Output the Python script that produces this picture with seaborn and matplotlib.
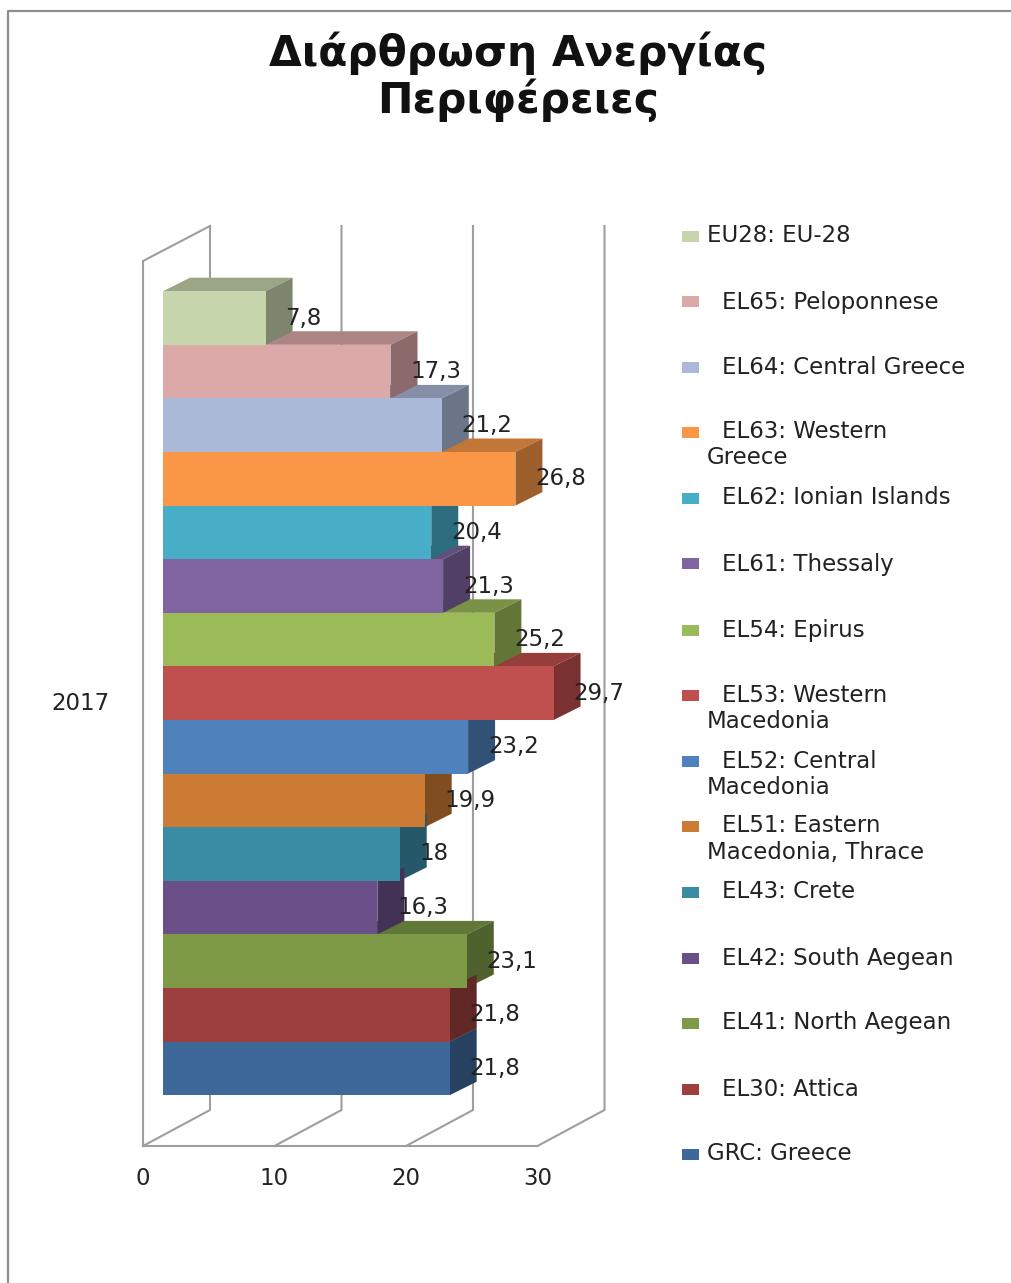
import matplotlib
matplotlib.use("Agg")
import matplotlib.pyplot as plt
from matplotlib.colors import to_rgb
from matplotlib.patches import Rectangle
import pandas as pd
import seaborn as sns

W, H = 1011, 1283
title_lines = ["Διάρθρωση Ανεργίας", "Περιφέρειες"]
year = "2017"
regions = ["EU28", "EL65", "EL64", "EL63", "EL62", "EL61", "EL54", "EL53",
           "EL52", "EL51", "EL43", "EL42", "EL41", "EL30", "GRC"]
values = [7.8, 17.3, 21.2, 26.8, 20.4, 21.3, 25.2, 29.7, 23.2, 19.9, 18, 16.3, 23.1, 21.8, 21.8]
value_labels = ["7,8", "17,3", "21,2", "26,8", "20,4", "21,3", "25,2", "29,7",
                "23,2", "19,9", "18", "16,3", "23,1", "21,8", "21,8"]
legend_labels = ["EU28: EU-28", "  EL65: Peloponnese", "  EL64: Central Greece",
                 "  EL63: Western\nGreece", "  EL62: Ionian Islands", "  EL61: Thessaly",
                 "  EL54: Epirus", "  EL53: Western\nMacedonia", "  EL52: Central\nMacedonia",
                 "  EL51: Eastern\nMacedonia, Thrace", "  EL43: Crete", "  EL42: South Aegean",
                 "  EL41: North Aegean", "  EL30: Attica", "GRC: Greece"]
colors = ["#C6D5AC", "#DBA9A8", "#AAB9D7", "#F99746", "#48ADC7", "#8064A2", "#9BBB59", "#C0504D",
          "#4F81BD", "#CB7B34", "#3A8CA5", "#6B4F88", "#7E9A47", "#9C3F3D", "#3E6899"]
axis_ticks = [0, 10, 20, 30]
legend_y = [236, 302, 367, 432, 498, 564, 630, 695, 761, 826, 892, 958, 1023, 1089, 1154]

# layout: pixels per data unit / per category, and origin of the plot
PX, PY = 13.15, 53.6
X0, Y0 = 163, 318
DEPTH_X, DEPTH_Y = 27 / PX, 13.5 / PY
INK = "#222222"
GRID = "#9E9E9E"
LABEL_SIZE = 16.5

sns.set_theme(style="white")
plt.rcParams["font.family"] = ["DejaVu Sans"]

fig = plt.figure(figsize=(W / 100, H / 100), dpi=100)
ax = fig.add_axes([0, 0, 1, 1])

df = pd.DataFrame({"region": regions, "value": values})
sns.barplot(data=df, y="region", x="value", hue="region", palette=colors, hue_order=regions,
            order=regions, orient="h", width=1.0, saturation=1, legend=False, ax=ax)
ax.set_xlim(-X0 / PX, (W - X0) / PX)
ax.set_ylim((H - Y0) / PY, -Y0 / PY)
ax.axis("off")
for bar in ax.patches:
    bar.set_zorder(50)
    bar.set_linewidth(0)


def shade(c, f):
    return tuple(v * f for v in to_rgb(c))


# wall / floor frame
fx0 = -20 / PX            # front of the floor relative to the bars
fy = (1146 - Y0) / PY     # floor line
back_x, back_y = 67 / PX, 36 / PY
top_front = (261 - Y0) / PY
top_back = (226 - Y0) / PY
line = dict(color=GRID, lw=1.5, zorder=1, solid_capstyle="projecting")
ax.plot([fx0 + axis_ticks[0], fx0 + axis_ticks[-1]], [fy, fy], **line)
ax.plot([fx0, fx0, fx0 + back_x], [fy, top_front, top_back], **line)
for t in axis_ticks:
    ax.plot([fx0 + t, fx0 + t + back_x, fx0 + t + back_x],
            [fy, fy - back_y, top_back], **line)
    ax.text(fx0 + t, (1179 - Y0) / PY, str(t), ha="center", va="center",
            fontsize=LABEL_SIZE, color=INK, zorder=60)

# 3-D faces: every top first, then every side, then the fronts (the bars)
for i, (v, c) in enumerate(zip(values, colors)):
    top, bot = i - 0.5, i + 0.5
    ax.fill([0, v, v + DEPTH_X, DEPTH_X], [top, top, top - DEPTH_Y, top - DEPTH_Y],
            color=shade(c, 0.78), lw=0, zorder=10)
    ax.fill([v, v + DEPTH_X, v + DEPTH_X, v], [top, top - DEPTH_Y, bot - DEPTH_Y, bot],
            color=shade(c, 0.63), lw=0, zorder=20)
    ax.text(v + 20 / PX, i, value_labels[i], ha="left", va="center",
            fontsize=LABEL_SIZE, color=INK, zorder=60)

ax.text((81 - X0) / PX, (704 - Y0) / PY, year, ha="center", va="center",
        fontsize=LABEL_SIZE, color=INK, zorder=60)


def fxy(px, py):
    return px / W, 1 - py / H


# chart frame
fig.add_artist(plt.Line2D([8 / W, 8 / W, 1], [0, 1 - 11 / H, 1 - 11 / H],
                          transform=fig.transFigure, color="#8E8E8E", lw=1.6))

for line_text, py in zip(title_lines, [53, 100]):
    fig.text(*fxy(518, py), line_text, ha="center", va="center",
             fontsize=30.5, fontweight="bold", color="#111111")

for label, py, c in zip(legend_labels, legend_y, colors):
    fig.add_artist(Rectangle(fxy(682, py + 5.5), 17 / W, 11 / H, transform=fig.transFigure,
                             facecolor=c, edgecolor="none"))
    first, *rest = label.split("\n")
    x = 722 if first.startswith(" ") else 707
    fig.text(*fxy(x, py), first.strip(), ha="left", va="center", fontsize=LABEL_SIZE, color=INK)
    for r in rest:
        fig.text(*fxy(707, py + 26), r, ha="left", va="center", fontsize=LABEL_SIZE, color=INK)

fig.savefig("out.png", dpi=100)
